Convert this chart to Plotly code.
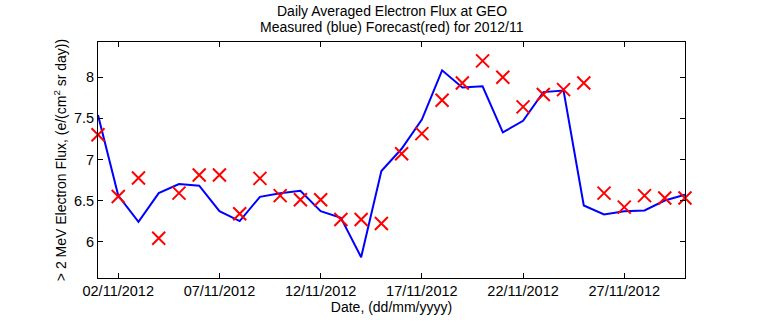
import plotly.graph_objects as go

# Daily values for November 2012
days = [f"2012-11-{d:02d}" for d in range(1, 31)]
measured = [7.54, 6.56, 6.24, 6.59, 6.70, 6.68, 6.37, 6.25, 6.545, 6.59,
            6.62, 6.37, 6.29, 5.81, 6.86, 7.13, 7.485, 8.085, 7.875, 7.89,
            7.33, 7.47, 7.82, 7.84, 6.44, 6.33, 6.37, 6.38, 6.50, 6.57]
forecast = [7.30, 6.55, 6.775, 6.04, 6.59, 6.81, 6.81, 6.34, 6.77, 6.56,
            6.51, 6.51, 6.27, 6.27, 6.22, 7.07, 7.315, 7.72, 7.93, 8.20,
            8.00, 7.64, 7.79, 7.85, 7.93, 6.59, 6.42, 6.56, 6.53, 6.53]

x_tick_vals = ["2012-11-02", "2012-11-07", "2012-11-12", "2012-11-17", "2012-11-22", "2012-11-27"]
x_tick_text = ["02/11/2012", "07/11/2012", "12/11/2012", "17/11/2012", "22/11/2012", "27/11/2012"]
y_tick_vals = [6, 6.5, 7, 7.5, 8]
y_tick_text = ["6", "6.5", "7", "7.5", "8"]
title_lines = ["Daily Averaged Electron Flux at GEO",
               "Measured (blue) Forecast(red) for 2012/11"]

font_family = "Liberation Sans, Arial, sans-serif"
W, H = 757, 324
L, R, T, B = 98, 71.5, 41.7, 46.3
plot_h = H - T - B


def paper_y(py):
    # convert a pixel row (from the top) into paper coordinates
    return 1 + (T - py) / plot_h


fig = go.Figure()
fig.add_trace(go.Scatter(
    x=days, y=measured, mode="lines",
    line=dict(color="#0000ff", width=2),
    showlegend=False,
))
fig.add_trace(go.Scatter(
    x=days, y=forecast, mode="markers",
    marker=dict(symbol="x-thin", size=13, line=dict(color="#ff0000", width=2)),
    cliponaxis=False,
    showlegend=False,
))

for i, line in enumerate(title_lines):
    fig.add_annotation(
        text=line, xref="paper", yref="paper",
        x=0.5, y=paper_y(11 + 16 * i), xanchor="center", yanchor="middle",
        showarrow=False, font=dict(size=14),
    )

fig.update_layout(
    width=W, height=H,
    margin=dict(l=L, r=R, t=T, b=B),
    paper_bgcolor="white", plot_bgcolor="white",
    font=dict(family=font_family, size=14.5, color="black"),
    xaxis=dict(
        type="date",
        range=["2012-11-01", "2012-11-30"],
        tickvals=x_tick_vals, ticktext=x_tick_text,
        tickfont=dict(size=14.5),
        ticks="inside", ticklen=5, tickcolor="black",
        showline=True, linecolor="black", linewidth=1, mirror="ticks",
        showgrid=False, zeroline=False,
        title=dict(text="Date, (dd/mm/yyyy)", standoff=2, font=dict(size=14)),
    ),
    yaxis=dict(
        range=[5.557, 8.43],
        tickvals=y_tick_vals, ticktext=y_tick_text,
        tickfont=dict(size=14.5),
        ticks="inside", ticklen=5, tickcolor="black",
        showline=True, linecolor="black", linewidth=1, mirror="ticks",
        showgrid=False, zeroline=False,
        title=dict(text="> 2 MeV Electron Flux, (e/(cm<sup>2</sup> sr day))", standoff=4,
                   font=dict(size=14)),
    ),
)

fig.write_html("out.html")
